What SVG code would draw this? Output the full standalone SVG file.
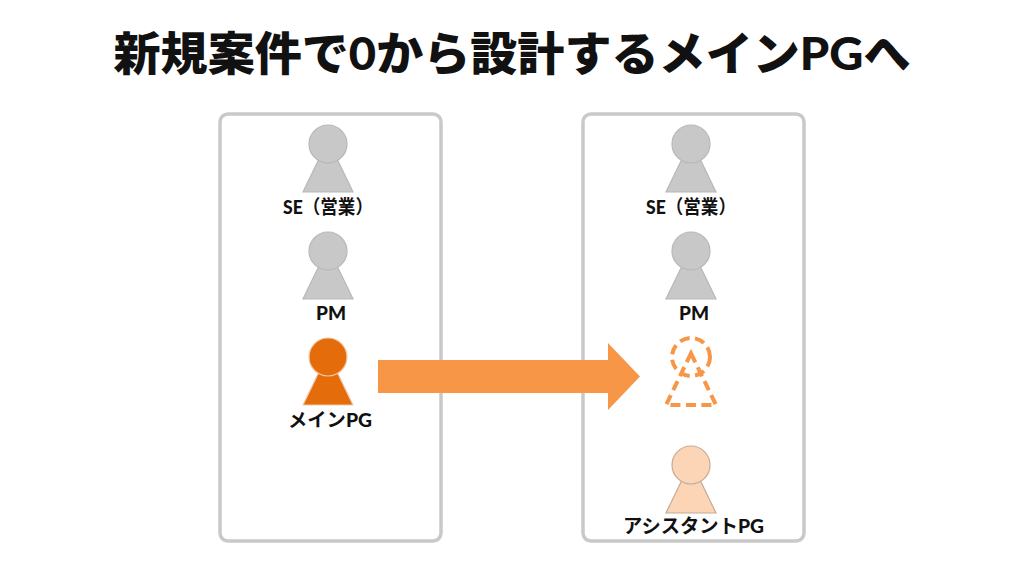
<svg xmlns="http://www.w3.org/2000/svg" width="1024" height="576" viewBox="0 0 1024 576">
<style>
text{font-family:"Noto Sans CJK JP","Noto Sans",sans-serif;font-weight:700;fill:#111;text-anchor:middle}
.lab{font-size:19px}
.ttl{font-weight:900}
tspan{font-family:"Lato","Noto Sans CJK JP",sans-serif;font-weight:900}
.box{fill:#fff;stroke:#c9c9c9;stroke-width:3.5}
.grey{fill:#c8c8c8;stroke:#b8b8b8;stroke-width:1.2}
.main{fill:#e46c0a;stroke:#f2c9a8;stroke-width:1.2}
.asst{fill:#fbd5b5;stroke:#c4ab98;stroke-width:1.2}
.dash{fill:none;stroke:#f79646;stroke-width:4;stroke-dasharray:10 5.500}
</style>
<defs>
<g id="p"><path d="M328 140.300L353 192H303Z"/><circle cx="328" cy="144" r="19"/></g>
</defs>
<rect width="1024" height="576" fill="#fff"/>
<text id="title" class="ttl" x="512" y="70" font-size="46" textLength="797" lengthAdjust="spacingAndGlyphs">新規案件で<tspan>0</tspan>から設計するメイン<tspan>PG</tspan>へ</text>
<g id="panel-left"><rect class="box" x="220" y="114" width="221" height="427" rx="8"/></g>
<g id="panel-right"><rect class="box" x="583" y="114" width="221" height="427" rx="8"/></g>
<g id="left-se"><use href="#p" class="grey"/><text class="lab" x="328" y="214" textLength="90" lengthAdjust="spacingAndGlyphs"><tspan>SE</tspan>（営業）</text></g>
<g id="left-pm"><use href="#p" class="grey" y="107"/><text class="lab" x="331" y="320"><tspan>PM</tspan></text></g>
<g id="left-pg"><use href="#p" class="main" y="213"/><text class="lab" x="330" y="427" textLength="84" lengthAdjust="spacingAndGlyphs">メイン<tspan>PG</tspan></text></g>
<g id="right-se"><use href="#p" class="grey" x="363"/><text class="lab" x="691" y="214" textLength="90" lengthAdjust="spacingAndGlyphs"><tspan>SE</tspan>（営業）</text></g>
<g id="right-pm"><use href="#p" class="grey" x="363" y="107"/><text class="lab" x="694" y="320"><tspan>PM</tspan></text></g>
<g id="right-pg-dashed"><use href="#p" class="dash" x="363" y="213"/></g>
<g id="right-assistant"><use href="#p" class="asst" x="363" y="321"/><text class="lab" x="693.500" y="533" textLength="141" lengthAdjust="spacingAndGlyphs">アシスタント<tspan>PG</tspan></text></g>
<g id="connectors"><path d="M378 360H608V343L640 376.500L608 410V393H378Z" fill="#f79646"/></g>
</svg>
